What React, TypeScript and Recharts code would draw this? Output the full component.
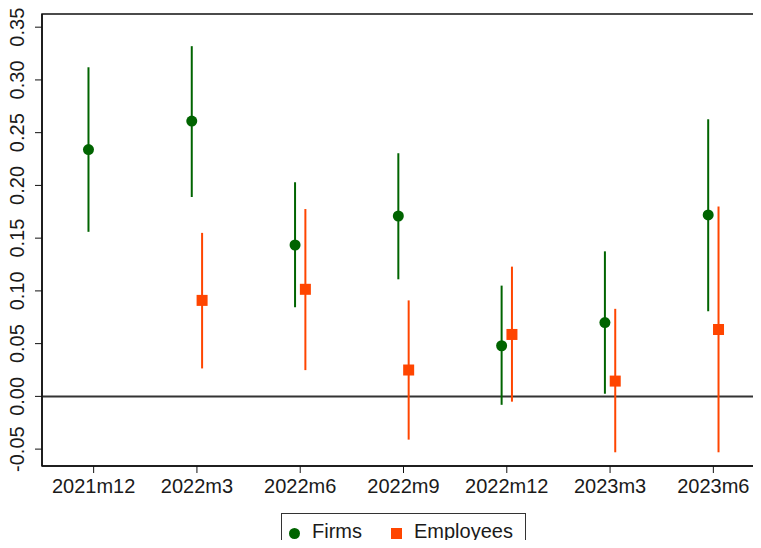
import {
  ComposedChart,
  ErrorBar,
  Legend,
  ReferenceArea,
  ReferenceLine,
  Scatter,
  XAxis,
  YAxis,
} from "recharts";

const categories = ["2021m12", "2022m3", "2022m6", "2022m9", "2022m12", "2023m3", "2023m6"];

// point estimates and 95% CI bounds
const firmEst = [0.234, 0.261, 0.1435, 0.171, 0.048, 0.07, 0.172];
const firmLo = [0.156, 0.189, 0.0845, 0.111, -0.008, 0.0025, 0.0807];
const firmHi = [0.312, 0.332, 0.203, 0.2305, 0.105, 0.1375, 0.2627];

const empEst = [null, 0.091, 0.1015, 0.025, 0.0587, 0.0145, 0.0634];
const empLo = [null, 0.0265, 0.0249, -0.041, -0.005, -0.053, -0.053];
const empHi = [null, 0.155, 0.1776, 0.091, 0.123, 0.083, 0.18];

const yTicks = [-0.05, 0, 0.05, 0.1, 0.15, 0.2, 0.25, 0.3, 0.35];

const GREEN = "#006400";
const ORANGE = "#ff4500";
const FONT = "'Liberation Sans', Arial, sans-serif";

const firmData = categories.map((c, i) => ({
  x: i - 0.05,
  y: firmEst[i],
  err: [firmEst[i] - firmLo[i], firmHi[i] - firmEst[i]],
}));

const empData = categories
  .map((c, i) =>
    empEst[i] == null
      ? null
      : {
          x: i + 0.05,
          y: empEst[i] as number,
          err: [(empEst[i] as number) - (empLo[i] as number), (empHi[i] as number) - (empEst[i] as number)],
        }
  )
  .filter(Boolean) as { x: number; y: number; err: number[] }[];

function XTick({ x, y, payload }: any) {
  return (
    <text x={x} y={y + 18} textAnchor="middle" fontSize={20} fill="#1a1a1a" fontFamily={FONT}>
      {categories[payload.value]}
    </text>
  );
}

function YTick({ x, y, payload }: any) {
  const v = payload.value as number;
  return (
    <text
      x={x - 9}
      y={y}
      textAnchor="middle"
      fontSize={20}
      fill="#1a1a1a"
      fontFamily={FONT}
      transform={`rotate(-90, ${x - 9}, ${y})`}
    >
      {v.toFixed(2)}
    </text>
  );
}

function Dot({ cx, cy }: any) {
  return <circle cx={cx} cy={cy} r={5.5} fill={GREEN} />;
}

function Square({ cx, cy }: any) {
  return <rect x={cx - 5.5} y={cy - 5.5} width={11} height={11} fill={ORANGE} />;
}

function LegendBox() {
  return (
    <div
      style={{
        border: "1px solid #333",
        height: 45,
        boxSizing: "border-box",
        display: "flex",
        alignItems: "flex-start",
        paddingTop: 6,
        fontFamily: FONT,
        fontSize: 20,
        color: "#1a1a1a",
      }}
    >
      <span style={{ display: "inline-block", width: 11, height: 11, borderRadius: "50%", background: GREEN, marginLeft: 7, marginTop: 8 }} />
      <span style={{ marginLeft: 12 }}>Firms</span>
      <span style={{ display: "inline-block", width: 11, height: 11, background: ORANGE, marginLeft: 29, marginTop: 8 }} />
      <span style={{ marginLeft: 12 }}>Employees</span>
    </div>
  );
}

export default function App() {
  return (
    <div style={{ margin: -8, width: 761, height: 548, overflow: "hidden", background: "#fff" }}>
      <ComposedChart width={781} height={548} margin={{ top: 14, right: 16, left: 0, bottom: 42 }}>
        <XAxis
          type="number"
          dataKey="x"
          domain={[-0.5, 6.5]}
          ticks={[0, 1, 2, 3, 4, 5, 6]}
          allowDataOverflow
          height={40}
          tickSize={7}
          tick={<XTick />}
          axisLine={{ stroke: "#111", strokeWidth: 1.5 }}
          tickLine={{ stroke: "#111" }}
        />
        <YAxis
          type="number"
          dataKey="y"
          domain={[-0.066, 0.3625]}
          ticks={yTicks}
          allowDataOverflow
          width={42}
          tickSize={7}
          tick={<YTick />}
          axisLine={{ stroke: "#111", strokeWidth: 1.5 }}
          tickLine={{ stroke: "#111" }}
        />
        <ReferenceArea x1={-0.5} x2={6.5} y1={-0.066} y2={0.3625} fill="none" stroke="#111" strokeWidth={1.5} />
        <ReferenceLine y={0} stroke="#333" strokeWidth={2} />
        <Scatter name="Firms" data={firmData} shape={<Dot />} fill={GREEN} isAnimationActive={false}>
          <ErrorBar dataKey="err" direction="y" width={0} stroke={GREEN} strokeWidth={2} />
        </Scatter>
        <Scatter name="Employees" data={empData} shape={<Square />} fill={ORANGE} isAnimationActive={false}>
          <ErrorBar dataKey="err" direction="y" width={0} stroke={ORANGE} strokeWidth={2} />
        </Scatter>
        <Legend
          layout="horizontal"
          verticalAlign="middle"
          align="center"
          content={() => <LegendBox />}
          wrapperStyle={{ left: 281, top: 513, width: 245 }}
        />
      </ComposedChart>
    </div>
  );
}
